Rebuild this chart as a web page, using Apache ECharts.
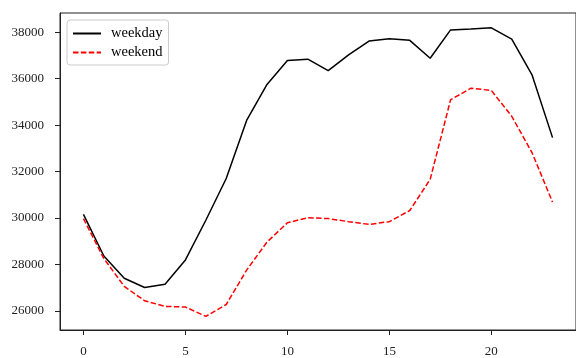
<!DOCTYPE html>
<html>
<head>
<meta charset="utf-8">
<script src="https://cdn.jsdelivr.net/npm/echarts@6/dist/echarts.min.js"></script>
<style>
  html, body { margin: 0; padding: 0; background: #fff; }
  #chart { width: 576px; height: 358px; }
</style>
</head>
<body>
<div id="chart"></div>
<script>
var hours = [0,1,2,3,4,5,6,7,8,9,10,11,12,13,14,15,16,17,18,19,20,21,22,23];
var weekday = [30150,28360,27400,27000,27145,28190,29900,31700,34200,35750,36780,36840,36350,37025,37620,37720,37650,36880,38100,38140,38190,37700,36150,33460];
var weekend = [29970,28250,27050,26430,26190,26160,25760,26270,27750,28960,29790,30010,29970,29840,29720,29840,30320,31660,35090,35590,35490,34380,32800,30680];
var xTicks = [0,5,10,15,20];
var yTicks = [26000,28000,30000,32000,34000,36000,38000];

function pairs(xs, ys) {
  var out = [];
  for (var i = 0; i < xs.length; ++i) out.push([xs[i], ys[i]]);
  return out;
}

var font = '"Liberation Serif", "DejaVu Serif", serif';

var option = {
  animation: false,
  backgroundColor: '#fff',
  textStyle: { fontFamily: font },
  grid: {
    left: 60, top: 13, width: 519, height: 318,
    show: true, borderColor: '#222', borderWidth: 1, backgroundColor: '#fff'
  },
  legend: {
    orient: 'vertical',
    left: 67, top: 20,
    padding: [6, 6, 5, 5],
    itemWidth: 28, itemHeight: 12, itemGap: 4,
    backgroundColor: '#fff',
    borderColor: '#ccc', borderWidth: 1, borderRadius: 3,
    itemStyle: { opacity: 0 },
    textStyle: { fontFamily: font, fontSize: 14.5, color: '#000', padding: [0, 0, 0, 5] },
    data: ['weekday', 'weekend']
  },
  xAxis: {
    type: 'value',
    min: -1.15, max: 24.15,
    splitLine: { show: false },
    axisLine: { show: true, onZero: false, lineStyle: { color: '#222', width: 1 } },
    axisTick: { show: true, length: 5, customValues: xTicks, lineStyle: { color: '#222' } },
    axisLabel: { customValues: xTicks, margin: 15, fontSize: 13, color: '#222', fontFamily: font,
      formatter: function (v) { return String(v); } }
  },
  yAxis: {
    type: 'value',
    min: 25171, max: 38829,
    splitLine: { show: false },
    axisLine: { show: true, onZero: false, lineStyle: { color: '#222', width: 1 } },
    axisTick: { show: true, length: 5, customValues: yTicks, lineStyle: { color: '#222' } },
    axisLabel: { customValues: yTicks, margin: 16, fontSize: 13, color: '#222', fontFamily: font,
      formatter: function (v) { return String(v); } }
  },
  series: [
    {
      name: 'weekday', type: 'line',
      data: pairs(hours, weekday),
      symbol: 'none', showSymbol: false,
      itemStyle: { color: '#000' },
      lineStyle: { color: '#000', width: 1.5 }
    },
    {
      name: 'weekend', type: 'line',
      data: pairs(hours, weekend),
      symbol: 'none', showSymbol: false,
      itemStyle: { color: '#ff0000' },
      lineStyle: { color: '#ff0000', width: 1.5, type: [5.5, 2.4] }
    }
  ]
};

window.onload = function () {
  var chart = echarts.init(document.getElementById('chart'));
  chart.setOption(option);
};
</script>
</body>
</html>
